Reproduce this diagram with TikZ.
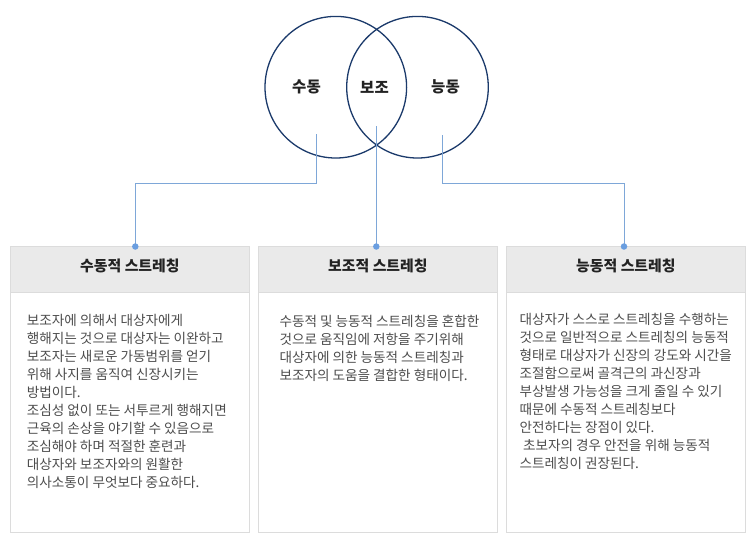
\documentclass[tikz,border=0pt]{standalone}
\usepackage{fontspec}
\setmainfont{Noto Sans CJK KR}
\definecolor{navy}{HTML}{1B3A6B}
\definecolor{conn}{HTML}{7EA7D8}
\definecolor{dotc}{HTML}{6A9EE0}
\definecolor{hdrfill}{HTML}{EAEAEA}
\definecolor{boxline}{HTML}{DCDCDC}
\definecolor{bodyc}{HTML}{4D4D4D}
\definecolor{titlec}{HTML}{222222}
\begin{document}
\begin{tikzpicture}[x=1pt,y=-1pt,
  venn/.style={circle, draw=navy, line width=1.3pt, minimum size=141.6pt, inner sep=0pt},
  vennlabel/.style={font=\fontsize{15.5}{17}\selectfont\bfseries, text=titlec, inner sep=0pt},
  conline/.style={draw=conn, line width=0.9pt},
  condot/.style={circle, fill=dotc, minimum size=6.5pt, inner sep=0pt},
  cardbox/.style={draw=boxline, line width=0.8pt, fill=white, minimum width=239pt, minimum height=286pt, anchor=north west, inner sep=0pt},
  cardhead/.style={draw=boxline, line width=0.8pt, fill=hdrfill, minimum width=239pt, minimum height=46pt, anchor=north west, inner sep=0pt},
  cardtitle/.style={font=\fontsize{14.9}{17}\selectfont\bfseries, text=titlec, inner sep=0pt},
  bodytext/.style={font=\fontsize{13.6}{18}\selectfont, text=bodyc, align=left, anchor=north west, inner sep=0pt}
]
\useasboundingbox (0,0) rectangle (756,542);
\fill[white] (0,0) rectangle (756,542);

% Venn circles
\node[venn] (cL) at (335.8,87.2) {};
\node[venn] (cR) at (417.5,87.2) {};
\node[vennlabel] (lL) at (306.5,87) {수동};
\node[vennlabel] (lM) at (374.5,87) {보조};
\node[vennlabel] (lR) at (445.5,87) {능동};

% cards
\node[cardbox] (b1) at (10,246) {};
\node[cardbox] (b2) at (258,246) {};
\node[cardbox] (b3) at (506,246) {};
\node[cardhead] (h1) at (10,246) {};
\node[cardhead] (h2) at (258,246) {};
\node[cardhead] (h3) at (506,246) {};
\node[cardtitle] (t1) at ([yshift=3pt]h1.center) {수동적 스트레칭};
\node[cardtitle] (t2) at ([yshift=3pt]h2.center) {보조적 스트레칭};
\node[cardtitle] (t3) at ([yshift=3pt]h3.center) {능동적 스트레칭};

% connector points
\coordinate (s1) at (316.7,134);
\coordinate (k1) at (316.7,183.3);
\coordinate (k1b) at (135.3,183.3);
\coordinate (e1) at (135.3,246.5);
\coordinate (s2) at (376.3,126);
\coordinate (e2) at (376.3,246.5);
\coordinate (s3) at (442.3,135);
\coordinate (k3) at (442.3,183.3);
\coordinate (k3b) at (624,183.3);
\coordinate (e3) at (624,246.5);

\draw[conline] (s1) -- (k1) -- (k1b) -- (e1);
\draw[conline] (s2) -- (e2);
\draw[conline] (s3) -- (k3) -- (k3b) -- (e3);
\node[condot] (d1) at (e1) {};
\node[condot] (d2) at (e2) {};
\node[condot] (d3) at (e3) {};

% body texts
\node[bodytext] (x1) at (26.7,314.5) {보조자에 의해서 대상자에게\\
행해지는 것으로 대상자는 이완하고\\
보조자는 새로운 가동범위를 얻기\\
위해 사지를 움직여 신장시키는\\
방법이다.\\
조심성 없이 또는 서투르게 행해지면\\
근육의 손상을 야기할 수 있음으로\\
조심해야 하며 적절한 훈련과\\
대상자와 보조자와의 원활한\\
의사소통이 무엇보다 중요하다.};

\node[bodytext] (x2) at (279.3,314.5) {수동적 및 능동적 스트레칭을 혼합한\\
것으로 움직임에 저항을 주기위해\\
대상자에 의한 능동적 스트레칭과\\
보조자의 도움을 결합한 형태이다.};

\node[bodytext] (x3) at (519.3,313) {대상자가 스스로 스트레칭을 수행하는\\
것으로 일반적으로 스트레칭의 능동적\\
형태로 대상자가 신장의 강도와 시간을\\
조절함으로써 골격근의 과신장과\\
부상발생 가능성을 크게 줄일 수 있기\\
때문에 수동적 스트레칭보다\\
안전하다는 장점이 있다.\\
\hspace*{3.5pt}초보자의 경우 안전을 위해 능동적\\
스트레칭이 권장된다.};
\end{tikzpicture}
\end{document}
